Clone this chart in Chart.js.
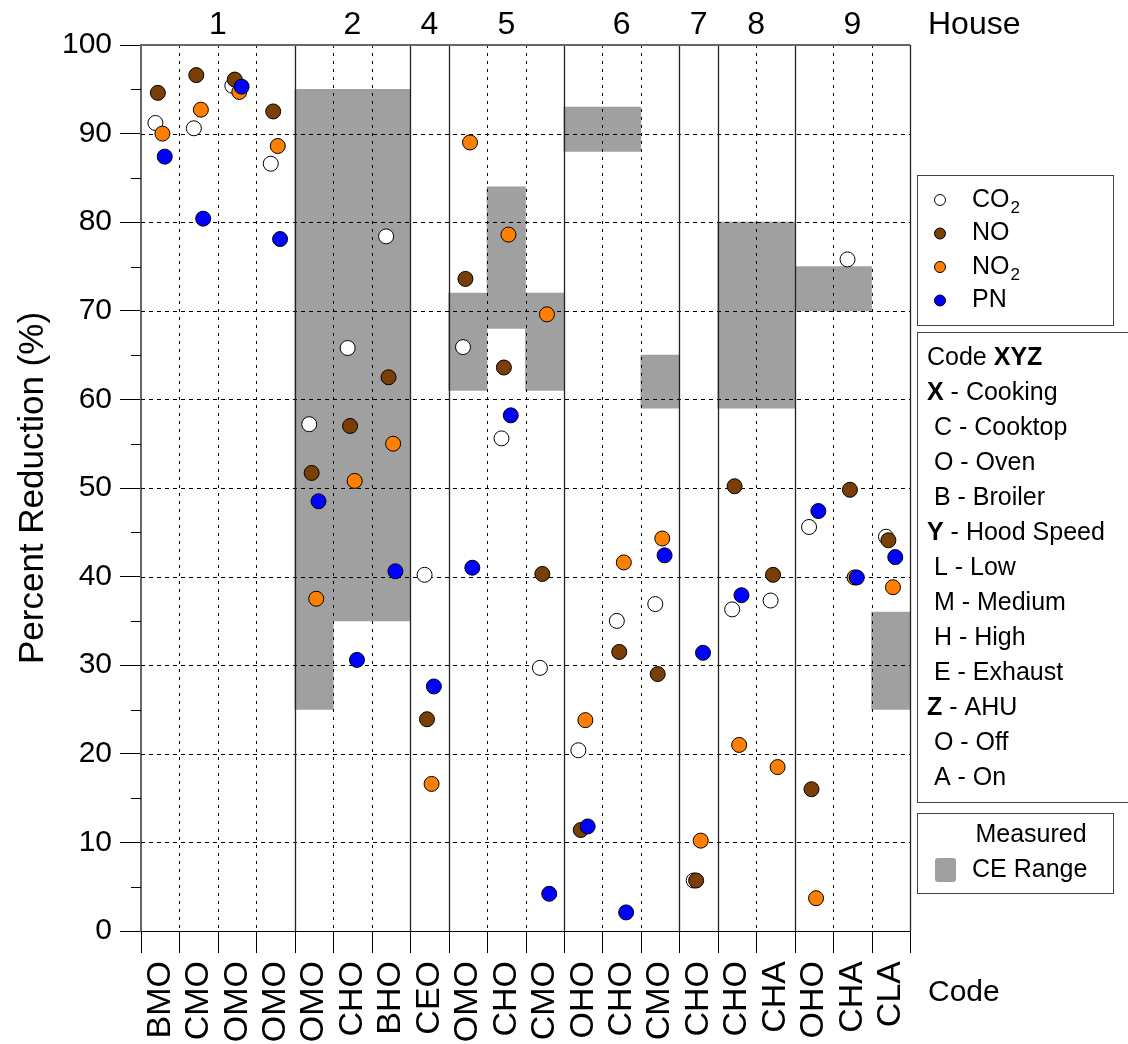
<!DOCTYPE html>
<html><head><meta charset="utf-8">
<script src="https://cdn.jsdelivr.net/npm/chart.js@4"></script>
<style>html,body{margin:0;padding:0;background:#fff}#wrap{width:1128px;height:1044px;position:relative}</style>
</head><body><div id="wrap"><canvas id="c" width="1128" height="1044"></canvas></div>
<script>
// ---------------- data ----------------
const codes = ['BMO','CMO','OMO','OMO','OMO','CHO','BHO','CEO','OMO','CHO','CMO','OHO','CHO','CMO','CHO','CHO','CHA','OHO','CHA','CLA'];
const houses = ['1','2','4','5','6','7','8','9'];
const houseSizes = [4,3,1,3,3,1,2,3];
const co2 = [91.2, 90.6, 95.4, 86.6, 57.2, 65.8, 78.4, 40.2, 65.9, 55.6, 29.7, 20.4, 35.0, 36.9, 5.7, 36.3, 37.3, 45.6, 75.8, 44.5];
const no  = [94.6, 96.6, 96.1, 92.5, 51.7, 57.0, 62.5, 23.9, 73.6, 63.6, 40.3, 11.4, 31.5, 29.0, 5.7, 50.2, 40.2, 16.0, 49.8, 44.1];
const no2 = [90.0, 92.7, 94.7, 88.6, 37.5, 50.8, 55.0, 16.6, 89.0, 78.6, 69.6, 23.8, 41.6, 44.3, 10.2, 21.0, 18.5, 3.7, 39.9, 38.8];
const pn  = [87.4, 80.4, 95.3, 78.1, 48.5, 30.6, 40.6, 27.6, 41.0, 58.2, 4.2, 11.8, 2.1, 42.4, 31.4, 37.9, null, 47.4, 39.9, 42.2];
const ceLow  = [null,null,null,null,25,35,35,null,61,68,61,88,88,59,null,59,59,70,70,25];
const ceHigh = [null,null,null,null,95,95,95,null,72,84,72,93,93,65,null,80,80,75,75,36];
const yMin = 0, yMax = 100, yStep = 10;

// ---------------- styling ----------------
const FONT = "'Liberation Sans', Arial, Helvetica, sans-serif";
Chart.defaults.font.family = FONT;
Chart.defaults.color = '#000';
const GRAY = '#a0a0a0';
const COLORS = {co2:'#ffffff', no:'#7a3f05', no2:'#ff8000', pn:'#0000ff'};
const OFFS = {co2:-0.125, no:-0.062, no2:0.057, pn:0.117};

function pts(arr, off){
  const out = [];
  arr.forEach((v,i)=>{ if(v!=null) out.push({x:i+off, y:v}); });
  return out;
}
function sc(label, arr, key, order){
  return {type:'scatter', label, order, data:pts(arr, OFFS[key]),
    pointRadius:7.5, pointHoverRadius:7.5, pointBackgroundColor:COLORS[key],
    pointBorderColor:'#000', pointBorderWidth:1, showLine:false};
}
const ceData = [];
ceLow.forEach((lo,i)=>{ if(lo!=null) ceData.push({x:i, y:[lo, ceHigh[i]]}); });

function line(ctx,x1,y1,x2,y2){ctx.beginPath();ctx.moveTo(x1,y1);ctx.lineTo(x2,y2);ctx.stroke();}
function sub(ctx, base, s, x, y, size){
  ctx.font = size+'px '+FONT; ctx.fillText(base, x, y);
  const w = ctx.measureText(base).width;
  ctx.font = Math.round(size*0.68)+'px '+FONT; ctx.fillText(s, x+w+1, y+8);
}
function boldPrefix(ctx, b, rest, x, y, size){
  ctx.font = 'bold '+size+'px '+FONT; ctx.fillText(b, x, y);
  const w = ctx.measureText(b).width;
  ctx.font = size+'px '+FONT; ctx.fillText(rest, x+w, y);
}

const decor = {
  id:'decor',
  afterDatasetDraw(chart, args){
    if(args.index !== 0) return;
    const {ctx, chartArea:a, scales:{x,y}} = chart;
    ctx.save();
    ctx.lineWidth = 1;
    ctx.strokeStyle = '#000';
    ctx.setLineDash([4,4]);
    for(let v=yMin+yStep; v<yMax; v+=yStep){
      const py = Math.round(y.getPixelForValue(v))+0.5;
      line(ctx, a.left, py, a.right, py);
    }
    const bounds = new Set(); let c=0; houseSizes.forEach(s=>{c+=s; bounds.add(c);});
    for(let i=1;i<codes.length;i++){
      const px = Math.round(x.getPixelForValue(i-0.5))+0.5;
      if(bounds.has(i)){ ctx.setLineDash([]); ctx.strokeStyle='#222'; ctx.lineWidth=1.3; }
      else { ctx.setLineDash([3,5]); ctx.strokeStyle='#000'; ctx.lineWidth=1; }
      line(ctx, px, a.top, px, a.bottom);
    }
    ctx.restore();
  },
  afterDraw(chart){
    const {ctx, chartArea:a, scales:{x,y}} = chart;
    ctx.save();
    ctx.setLineDash([]);
    // frame: top and right
    ctx.strokeStyle = '#666'; ctx.lineWidth = 2;
    line(ctx, a.left-1, a.top, a.right, a.top);
    ctx.strokeStyle = '#222'; ctx.lineWidth = 1.3;
    line(ctx, Math.round(a.right)+0.5, a.top, Math.round(a.right)+0.5, a.bottom);
    // bottom ticks at category boundaries
    ctx.strokeStyle = '#000'; ctx.lineWidth = 1;
    for(let i=0;i<=codes.length;i++){
      const px = Math.round(x.getPixelForValue(i-0.5))+0.5;
      line(ctx, px, a.bottom, px, a.bottom+22);
    }
    // minor y ticks
    for(let v=yMin+yStep/2; v<yMax; v+=yStep){
      const py = Math.round(y.getPixelForValue(v))+0.5;
      line(ctx, a.left-10, py, a.left, py);
    }
    // house labels
    ctx.fillStyle = '#000';
    ctx.textBaseline = 'middle';
    ctx.textAlign = 'center';
    ctx.font = '32px '+FONT;
    let s = 0;
    houses.forEach((h,k)=>{
      const n = houseSizes[k];
      ctx.fillText(h, x.getPixelForValue(s + (n-1)/2), 25);
      s += n;
    });
    ctx.textAlign = 'left';
    ctx.fillText('House', 928, 25);
    ctx.font = '30px '+FONT;
    ctx.fillText('Code', 928, 993);

    // legend box 1
    ctx.strokeStyle = '#444'; ctx.lineWidth = 1;
    ctx.strokeRect(917.5, 175.5, 196, 150);
    const items = [['CO','2','co2'],['NO','','no'],['NO','2','no2'],['PN','','pn']];
    items.forEach((it,i)=>{
      const cy = 200 + i*33.5;
      ctx.beginPath(); ctx.arc(940, cy, 5.5, 0, Math.PI*2);
      ctx.fillStyle = COLORS[it[2]]; ctx.fill(); ctx.strokeStyle='#000'; ctx.stroke();
      ctx.fillStyle = '#000';
      if(it[1]) sub(ctx, it[0], it[1], 972, cy, 25);
      else { ctx.font='25px '+FONT; ctx.fillText(it[0], 972, cy); }
    });
    // legend box 2
    ctx.strokeStyle = '#444';
    ctx.strokeRect(917.5, 332.5, 230, 470);
    const lines = [
      ['', 'Code ', 'XYZ'],
      ['X', ' - Cooking'], ['', ' C - Cooktop'], ['', ' O - Oven'], ['', ' B - Broiler'],
      ['Y', ' - Hood Speed'], ['', ' L - Low'], ['', ' M - Medium'], ['', ' H - High'], ['', ' E - Exhaust'],
      ['Z', ' - AHU'], ['', ' O - Off'], ['', ' A - On']
    ];
    lines.forEach((l,i)=>{
      const cy = 358 + i*35.05;
      ctx.fillStyle = '#000';
      if(i===0){
        ctx.font='25px '+FONT; ctx.fillText(l[1], 927, cy);
        const w = ctx.measureText(l[1]).width;
        ctx.font='bold 25px '+FONT; ctx.fillText(l[2], 927+w, cy);
      } else if(l[0]) boldPrefix(ctx, l[0], l[1], 927, cy, 25);
      else { ctx.font='25px '+FONT; ctx.fillText(l[1], 927, cy); }
    });
    // legend box 3
    ctx.strokeStyle = '#444';
    ctx.strokeRect(917.5, 813.5, 196, 80);
    ctx.font='25px '+FONT; ctx.textAlign='center';
    ctx.fillText('Measured', 1031, 835);
    ctx.textAlign='left';
    ctx.fillText('CE Range', 972, 870);
    ctx.fillStyle = GRAY;
    ctx.beginPath();
    if(ctx.roundRect) ctx.roundRect(935, 858, 21, 24, 3); else ctx.rect(935,858,21,24);
    ctx.fill();
    ctx.restore();
  }
};

new Chart(document.getElementById('c'), {
  type:'scatter',
  data:{datasets:[
    {type:'bar', label:'CE Range', order:10, data:ceData, backgroundColor:GRAY, borderWidth:0,
     barPercentage:1, categoryPercentage:1, grouped:false},
    sc('CO2', co2, 'co2', 4),
    sc('NO', no, 'no', 3),
    sc('NO2', no2, 'no2', 2),
    sc('PN', pn, 'pn', 1)
  ]},
  options:{
    responsive:false, animation:false, devicePixelRatio:1,
    layout:{padding:{top:45, right:218, left:0, bottom:0}},
    plugins:{legend:{display:false}, tooltip:{enabled:false}},
    scales:{
      x:{type:'linear', min:-0.5, max:codes.length-0.5, offset:false,
        afterBuildTicks:(s)=>{ s.ticks = codes.map((_,i)=>({value:i})); },
        afterFit:(s)=>{ s.height = 113; },
        grid:{offset:false, drawOnChartArea:false, drawTicks:true, tickLength:22, tickColor:'rgba(0,0,0,0)'},
        border:{display:true, color:'#000', width:1},
        ticks:{autoSkip:false, minRotation:90, maxRotation:90, padding:8, color:'#000',
          font:{size:34}, callback:(v,i)=>codes[i]}
      },
      y:{type:'linear', min:yMin, max:yMax,
        afterFit:(s)=>{ s.width = 141; },
        grid:{drawOnChartArea:false, drawTicks:true, tickLength:21, tickColor:'#000'},
        border:{display:true, color:'#666', width:2},
        ticks:{stepSize:yStep, padding:8, color:'#000', font:{size:30}},
        title:{display:true, text:'Percent Reduction (%)', color:'#000', font:{size:35}, padding:{top:12, bottom:0}}
      }
    }
  },
  plugins:[decor]
});
</script></body></html>
